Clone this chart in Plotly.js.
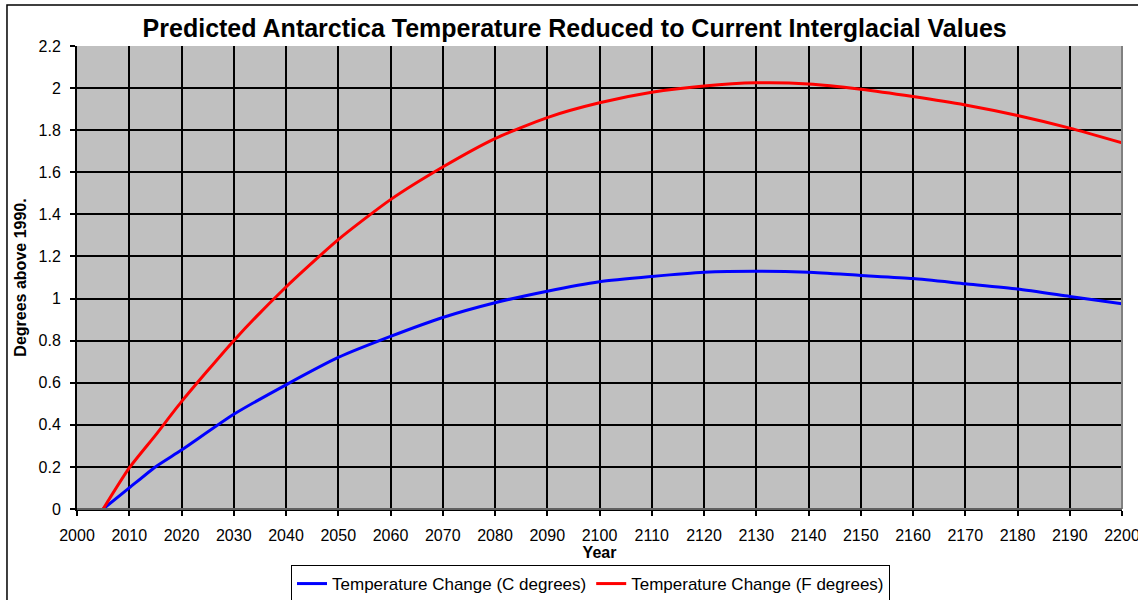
<!DOCTYPE html>
<html>
<head>
<meta charset="utf-8">
<script src="https://cdn.plot.ly/plotly-3.0.1.min.js"></script>
<style>
html,body{margin:0;padding:0;background:#fff;}
#chart{width:1138px;height:600px;}
</style>
</head>
<body>
<div id="chart"></div>
<script>
const years = [2005, 2010, 2015, 2020, 2030, 2040, 2050, 2060, 2070, 2080, 2090, 2100, 2110, 2120, 2130, 2140, 2150, 2160, 2170, 2180, 2190, 2200];
const tempC = [0, 0.10, 0.20, 0.28, 0.45, 0.59, 0.72, 0.82, 0.91, 0.98, 1.035, 1.08, 1.105, 1.125, 1.13, 1.125, 1.11, 1.095, 1.07, 1.045, 1.01, 0.975];
const tempF = [0, 0.195, 0.35, 0.51, 0.80, 1.055, 1.28, 1.47, 1.625, 1.76, 1.86, 1.93, 1.98, 2.01, 2.025, 2.02, 1.995, 1.96, 1.92, 1.87, 1.81, 1.74];
const seriesNames = ["Temperature Change (C degrees)", "Temperature Change (F degrees)"];
const titleText = "Predicted Antarctica Temperature Reduced to Current Interglacial Values";
const xTitle = "Year";
const yTitle = "Degrees above 1990.";

const font = "Liberation Sans, Arial, sans-serif";

const traces = [
  {x: years, y: tempC, name: seriesNames[0], mode: "lines",
   line: {color: "#0000ff", width: 3, shape: "spline", smoothing: 0.6}},
  {x: years, y: tempF, name: seriesNames[1], mode: "lines",
   line: {color: "#ff0000", width: 3, shape: "spline", smoothing: 0.6}}
];

const layout = {
  width: 1138, height: 600,
  margin: {l: 77, r: 16, t: 46, b: 91, autoexpand: false},
  paper_bgcolor: "#ffffff",
  plot_bgcolor: "#c0c0c0",
  font: {family: font, color: "#000", size: 15},
  title: {text: titleText, font: {family: font, size: 25, weight: "bold", color: "#000"},
          x: 0.505, xanchor: "center", y: 0.953, yanchor: "middle"},
  xaxis: {
    range: [2000, 2200], dtick: 10, tick0: 2000,
    showgrid: true, gridcolor: "#000", gridwidth: 2,
    ticks: "outside", ticklen: 5, tickcolor: "#000", tickwidth: 2,
    showline: true, linecolor: "#000", linewidth: 2,
    zeroline: false, tickfont: {family: font, size: 16},
    ticklabelstandoff: 6, ticklabeloverflow: "allow",
    title: {text: xTitle, font: {family: font, size: 16, weight: "bold"}, standoff: 4}
  },
  yaxis: {
    range: [0, 2.2], dtick: 0.2, tick0: 0,
    showgrid: true, gridcolor: "#000", gridwidth: 2,
    ticks: "outside", ticklen: 5, tickcolor: "#000", tickwidth: 2,
    showline: true, linecolor: "#000", linewidth: 2,
    zeroline: false, tickfont: {family: font, size: 16},
    ticklabelstandoff: 6,
    title: {text: yTitle, font: {family: font, size: 16, weight: "bold"}, standoff: 8}
  },
  legend: {
    orientation: "h", x: 0.4914, xanchor: "center", y: -0.121, yanchor: "top",
    bgcolor: "#fff", bordercolor: "#000", borderwidth: 1,
    font: {family: font, size: 17}, itemwidth: 30, tracegroupgap: 0
  },
  shapes: [
    {type: "rect", xref: "paper", yref: "paper",
     x0: -0.067, x1: 1.06, y0: -0.3, y1: 1.0886,
     line: {color: "#000", width: 1.5}, fillcolor: "rgba(0,0,0,0)", layer: "below"},
    {type: "line", xref: "paper", yref: "paper", x0: 1, x1: 1, y0: 0, y1: 1,
     line: {color: "#808080", width: 2}},
    {type: "line", xref: "paper", yref: "paper", x0: 0, x1: 1, y0: 0, y1: 0,
     line: {color: "#606060", width: 2}}
  ],
  showlegend: true
};

Plotly.newPlot("chart", traces, layout, {displayModeBar: false, staticPlot: true});
</script>
</body>
</html>
